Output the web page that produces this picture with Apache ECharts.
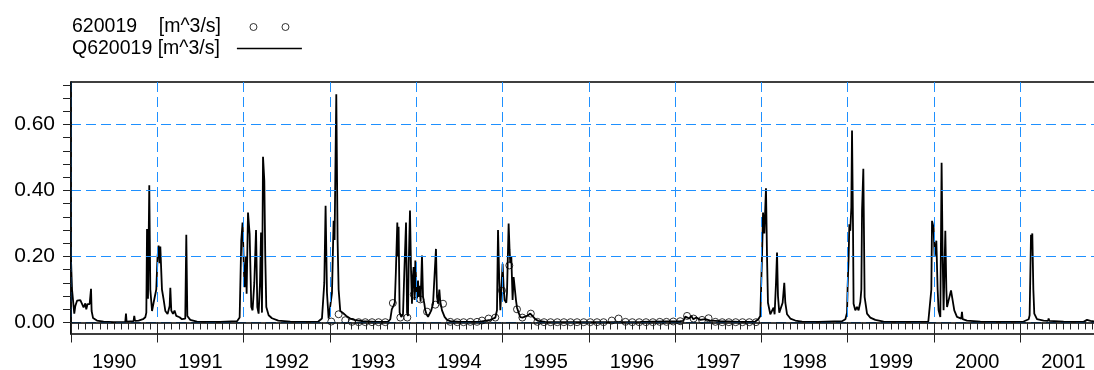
<!DOCTYPE html>
<html>
<head>
<meta charset="utf-8">
<script src="https://cdn.jsdelivr.net/npm/echarts@6/dist/echarts.min.js"></script>
<style>
  html, body { margin: 0; padding: 0; background: #fff; }
  #chart { width: 1094px; height: 370px; }
</style>
</head>
<body>
<div id="chart"></div>
<script>
// Station 620019 discharge [m^3/s] against decimal year.
const gaugedName = '620019    [m^3/s]';
const modelName = 'Q620019 [m^3/s]';

const yearLabels = ['1990', '1991', '1992', '1993', '1994', '1995',
                    '1996', '1997', '1998', '1999', '2000', '2001'];
const yLabelValues = [0, 0.2, 0.4, 0.6];
const yTickValues = [0, 0.04, 0.08, 0.12, 0.16, 0.2, 0.24, 0.28, 0.32, 0.36,
                     0.4, 0.44, 0.48, 0.52, 0.56, 0.6, 0.64, 0.68, 0.72];

// Computed discharge Q620019 (decimal year, m^3/s)
const flowQ620019 = [
  [1990.000,0.190],[1990.012,0.100],[1990.038,0.027],[1990.050,0.050],[1990.070,0.066],
  [1990.108,0.068],[1990.127,0.063],[1990.146,0.046],[1990.166,0.058],[1990.177,0.040],
  [1990.192,0.056],[1990.216,0.056],[1990.232,0.102],[1990.239,0.035],[1990.255,0.014],
  [1990.301,0.006],[1990.378,0.003],[1990.494,0.001],[1990.629,0.002],[1990.637,0.027],
  [1990.644,0.003],[1990.725,0.004],[1990.733,0.020],[1990.742,0.005],[1990.783,0.006],
  [1990.834,0.010],[1990.861,0.016],[1990.873,0.030],[1990.881,0.283],[1990.892,0.072],
  [1990.907,0.416],[1990.919,0.100],[1990.939,0.035],[1990.957,0.060],[1990.977,0.060],
  [1990.988,0.100],[1991.003,0.200],[1991.015,0.233],[1991.027,0.180],[1991.035,0.230],
  [1991.054,0.100],[1991.073,0.070],[1991.093,0.035],[1991.119,0.026],[1991.143,0.050],
  [1991.151,0.105],[1991.162,0.036],[1991.182,0.026],[1991.200,0.036],[1991.220,0.020],
  [1991.235,0.026],[1991.258,0.016],[1991.286,0.010],[1991.324,0.012],[1991.336,0.266],
  [1991.348,0.020],[1991.382,0.008],[1991.460,0.003],[1991.614,0.002],[1991.730,0.002],
  [1991.738,0.008],[1991.745,0.002],[1991.924,0.004],[1991.954,0.015],[1991.973,0.248],
  [1991.988,0.303],[1992.005,0.150],[1992.012,0.107],[1992.028,0.200],[1992.035,0.087],
  [1992.051,0.333],[1992.070,0.268],[1992.089,0.047],[1992.104,0.037],[1992.124,0.120],
  [1992.144,0.280],[1992.159,0.047],[1992.174,0.027],[1992.190,0.120],[1992.202,0.273],
  [1992.213,0.030],[1992.225,0.502],[1992.240,0.430],[1992.251,0.200],[1992.263,0.047],
  [1992.290,0.022],[1992.329,0.013],[1992.402,0.006],[1992.541,0.003],[1992.657,0.002],
  [1992.866,0.003],[1992.908,0.012],[1992.935,0.120],[1992.950,0.354],[1992.966,0.090],
  [1992.985,0.012],[1993.005,0.007],[1993.024,0.090],[1993.043,0.308],[1993.054,0.250],
  [1993.074,0.692],[1993.089,0.250],[1993.101,0.100],[1993.120,0.035],[1993.155,0.028],
  [1993.190,0.020],[1993.236,0.012],[1993.294,0.007],[1993.375,0.004],[1993.526,0.002],
  [1993.677,0.003],[1993.700,0.010],[1993.717,0.040],[1993.735,0.050],[1993.752,0.060],
  [1993.764,0.150],[1993.781,0.303],[1993.789,0.200],[1993.796,0.290],[1993.808,0.030],
  [1993.827,0.017],[1993.847,0.025],[1993.862,0.150],[1993.882,0.303],[1993.894,0.030],
  [1993.905,0.020],[1993.912,0.160],[1993.928,0.339],[1993.940,0.160],[1993.951,0.057],
  [1993.958,0.127],[1993.970,0.168],[1993.981,0.068],[1993.990,0.188],[1994.001,0.111],
  [1994.009,0.075],[1994.021,0.127],[1994.028,0.078],[1994.039,0.111],[1994.051,0.063],
  [1994.067,0.203],[1994.079,0.078],[1994.094,0.057],[1994.105,0.037],[1994.117,0.027],
  [1994.137,0.017],[1994.155,0.017],[1994.175,0.037],[1994.195,0.057],[1994.213,0.063],
  [1994.229,0.223],[1994.241,0.078],[1994.253,0.057],[1994.268,0.100],[1994.279,0.063],
  [1994.299,0.037],[1994.329,0.017],[1994.357,0.008],[1994.395,0.004],[1994.511,0.002],
  [1994.743,0.003],[1994.859,0.008],[1994.917,0.015],[1994.936,0.037],[1994.948,0.280],
  [1994.963,0.120],[1994.975,0.037],[1994.986,0.097],[1995.001,0.178],[1995.013,0.108],
  [1995.024,0.068],[1995.044,0.060],[1995.052,0.090],[1995.071,0.300],[1995.082,0.220],
  [1995.090,0.180],[1995.102,0.200],[1995.117,0.068],[1995.129,0.138],[1995.140,0.138],
  [1995.156,0.068],[1995.168,0.045],[1995.187,0.030],[1995.206,0.016],[1995.230,0.015],
  [1995.284,0.020],[1995.322,0.027],[1995.342,0.025],[1995.380,0.010],[1995.415,0.005],
  [1995.496,0.002],[1996.133,0.001],[1996.597,0.002],[1997.060,0.004],[1997.095,0.005],
  [1997.118,0.018],[1997.141,0.022],[1997.165,0.012],[1997.188,0.020],[1997.211,0.010],
  [1997.246,0.015],[1997.292,0.008],[1997.350,0.010],[1997.408,0.006],[1997.524,0.004],
  [1997.756,0.002],[1997.929,0.003],[1997.964,0.010],[1997.987,0.020],[1998.007,0.200],
  [1998.019,0.333],[1998.034,0.270],[1998.053,0.407],[1998.065,0.200],[1998.076,0.060],
  [1998.103,0.025],[1998.123,0.030],[1998.141,0.045],[1998.153,0.025],[1998.169,0.120],
  [1998.181,0.212],[1998.192,0.080],[1998.207,0.030],[1998.223,0.025],[1998.246,0.060],
  [1998.265,0.120],[1998.277,0.060],[1998.297,0.025],[1998.335,0.012],[1998.393,0.006],
  [1998.471,0.003],[1998.663,0.002],[1998.934,0.004],[1998.973,0.010],[1998.992,0.030],
  [1998.999,0.107],[1999.011,0.200],[1999.019,0.298],[1999.030,0.278],[1999.042,0.350],
  [1999.050,0.582],[1999.061,0.300],[1999.068,0.057],[1999.088,0.037],[1999.108,0.047],
  [1999.126,0.037],[1999.146,0.062],[1999.158,0.100],[1999.166,0.339],[1999.181,0.466],
  [1999.196,0.077],[1999.224,0.027],[1999.262,0.015],[1999.320,0.008],[1999.416,0.003],
  [1999.610,0.002],[1999.934,0.003],[1999.957,0.005],[1999.969,0.100],[1999.977,0.308],
  [1999.995,0.288],[2000.007,0.200],[2000.027,0.248],[2000.042,0.100],[2000.053,0.037],
  [2000.073,0.017],[2000.088,0.484],[2000.100,0.200],[2000.111,0.037],[2000.131,0.278],
  [2000.143,0.100],[2000.151,0.047],[2000.169,0.067],[2000.197,0.097],[2000.216,0.067],
  [2000.235,0.037],[2000.266,0.017],[2000.316,0.012],[2000.324,0.032],[2000.332,0.010],
  [2000.382,0.006],[2000.537,0.003],[2000.730,0.002],[2001.038,0.003],[2001.097,0.010],
  [2001.108,0.022],[2001.124,0.266],[2001.131,0.240],[2001.139,0.270],[2001.151,0.100],
  [2001.162,0.027],[2001.193,0.010],[2001.270,0.006],[2001.321,0.005],[2001.328,0.012],
  [2001.336,0.005],[2001.502,0.003],[2001.733,0.002],[2001.773,0.008],[2001.813,0.005],
  [2001.877,0.003]
];

// Gauged discharge 620019 (decimal year, m^3/s)
const gauged620019 = [
  [1993.016,0.003],[1993.101,0.025],[1993.178,0.007],[1993.256,0.002],[1993.333,0.001],
  [1993.410,0.001],[1993.488,0.001],[1993.564,0.001],[1993.642,0.001],[1993.729,0.059],
  [1993.816,0.015],[1993.897,0.015],[1993.972,0.085],[1994.048,0.070],[1994.125,0.033],
  [1994.221,0.054],[1994.311,0.057],[1994.395,0.002],[1994.476,0.001],[1994.549,0.001],
  [1994.627,0.002],[1994.705,0.002],[1994.762,0.006],[1994.839,0.012],[1994.917,0.015],
  [1994.994,0.097],[1995.079,0.173],[1995.168,0.040],[1995.230,0.015],[1995.328,0.027],
  [1995.404,0.002],[1995.481,0.001],[1995.557,0.001],[1995.635,0.001],[1995.711,0.001],
  [1995.788,0.001],[1995.864,0.001],[1995.941,0.001],[1996.017,0.001],[1996.095,0.001],
  [1996.171,0.001],[1996.266,0.006],[1996.345,0.012],[1996.425,0.002],[1996.504,0.001],
  [1996.584,0.001],[1996.663,0.001],[1996.742,0.001],[1996.822,0.002],[1996.900,0.002],
  [1996.979,0.003],[1997.059,0.004],[1997.138,0.020],[1997.214,0.012],[1997.312,0.008],
  [1997.388,0.013],[1997.467,0.002],[1997.546,0.001],[1997.623,0.001],[1997.702,0.001],
  [1997.781,0.001],[1997.860,0.001],[1997.937,0.001]
];

const FONT = 'Liberation Sans, Arial, sans-serif';
const GRID_BLUE = '#1E90FF';
const tStart = 1990;
const tEnd = 2001.877;
const qMin = -0.0348;
const qMax = 0.7288;

const chart = echarts.init(document.getElementById('chart'), null, { renderer: 'canvas' });

chart.setOption({
  animation: false,
  backgroundColor: '#fff',
  textStyle: { fontFamily: FONT },
  legend: [
    {
      data: [gaugedName],
      left: 72, top: 17, padding: 0,
      align: 'right', selectedMode: false,
      itemWidth: 39, itemHeight: 7,
      icon: 'path://M0,3.5a3.5,3.5 0 1,0 7,0a3.5,3.5 0 1,0 -7,0zM32,3.5a3.5,3.5 0 1,0 7,0a3.5,3.5 0 1,0 -7,0z',
      itemStyle: { color: 'transparent', borderColor: '#000', borderWidth: 1 },
      textStyle: { fontFamily: FONT, fontSize: 19.5, color: '#000', padding: [0, 24, 0, 0] }
    },
    {
      data: [modelName],
      left: 72, top: 38.5, padding: 0,
      align: 'right', selectedMode: false,
      icon: 'rect', itemWidth: 65, itemHeight: 1.6,
      itemStyle: { color: '#000', borderWidth: 0 },
      textStyle: { fontFamily: FONT, fontSize: 19.5, color: '#000', padding: [0, 12, 0, 0] }
    }
  ],
  grid: {
    left: 71, top: 82, right: -2, bottom: 36,
    show: true, borderColor: '#000', borderWidth: 1.5,
    backgroundColor: 'transparent',
    outerBoundsMode: 'none'
  },
  xAxis: [
    {
      type: 'value', min: tStart, max: tEnd, interval: 1,
      position: 'bottom', z: 4,
      axisLine: { show: true, lineStyle: { color: '#000', width: 1.5 } },
      axisTick: { show: true, length: 20, lineStyle: { color: '#222', width: 1 } },
      minorTick: { show: true, splitNumber: 12, length: 7, lineStyle: { color: '#222', width: 1 } },
      axisLabel: { show: false },
      splitLine: { show: true, lineStyle: { color: GRID_BLUE, width: 1, type: [10, 5] } },
      minorSplitLine: { show: false }
    },
    {
      // half-year units: labels sit at mid-year (odd values)
      type: 'value', min: tStart * 2, max: tEnd * 2, interval: 1,
      position: 'bottom', z: 4,
      axisLine: { show: false }, axisTick: { show: false },
      splitLine: { show: false },
      axisLabel: {
        show: true, margin: 18, fontSize: 20, fontFamily: FONT, color: '#000',
        showMinLabel: true, showMaxLabel: true, hideOverlap: false,
        formatter: v => (Math.round(v) % 2 === 1) ? (yearLabels[(Math.round(v) - 3981) / 2] || '') : ''
      }
    }
  ],
  yAxis: [
    {
      type: 'value', min: qMin, max: qMax, position: 'left', z: 4,
      axisLine: { show: true, lineStyle: { color: '#000', width: 1.5 } },
      axisTick: { show: true, length: 8, customValues: yLabelValues, lineStyle: { color: '#222' } },
      axisLabel: {
        show: true, customValues: yLabelValues, margin: 16,
        fontSize: 21, fontFamily: FONT, color: '#000',
        formatter: v => v.toFixed(2)
      },
      splitLine: { show: true, lineStyle: { color: GRID_BLUE, width: 1, type: [10, 5] } }
    },
    {
      type: 'value', min: qMin, max: qMax, position: 'left', z: 4,
      axisLine: { show: false },
      axisTick: { show: true, length: 8, customValues: yTickValues, lineStyle: { color: '#222' } },
      axisLabel: { show: false },
      splitLine: { show: false }
    }
  ],
  series: [
    {
      name: modelName, type: 'line', xAxisIndex: 0, yAxisIndex: 0,
      data: flowQ620019, symbol: 'none', showSymbol: false, z: 2,
      lineStyle: { color: '#000', width: 1.8 },
      itemStyle: { color: '#000' }
    },
    {
      name: gaugedName, type: 'scatter', xAxisIndex: 0, yAxisIndex: 0,
      data: gauged620019, symbol: 'circle', symbolSize: 7, z: 3,
      itemStyle: { color: 'transparent', borderColor: '#000', borderWidth: 1 }
    }
  ]
});
</script>
</body>
</html>
